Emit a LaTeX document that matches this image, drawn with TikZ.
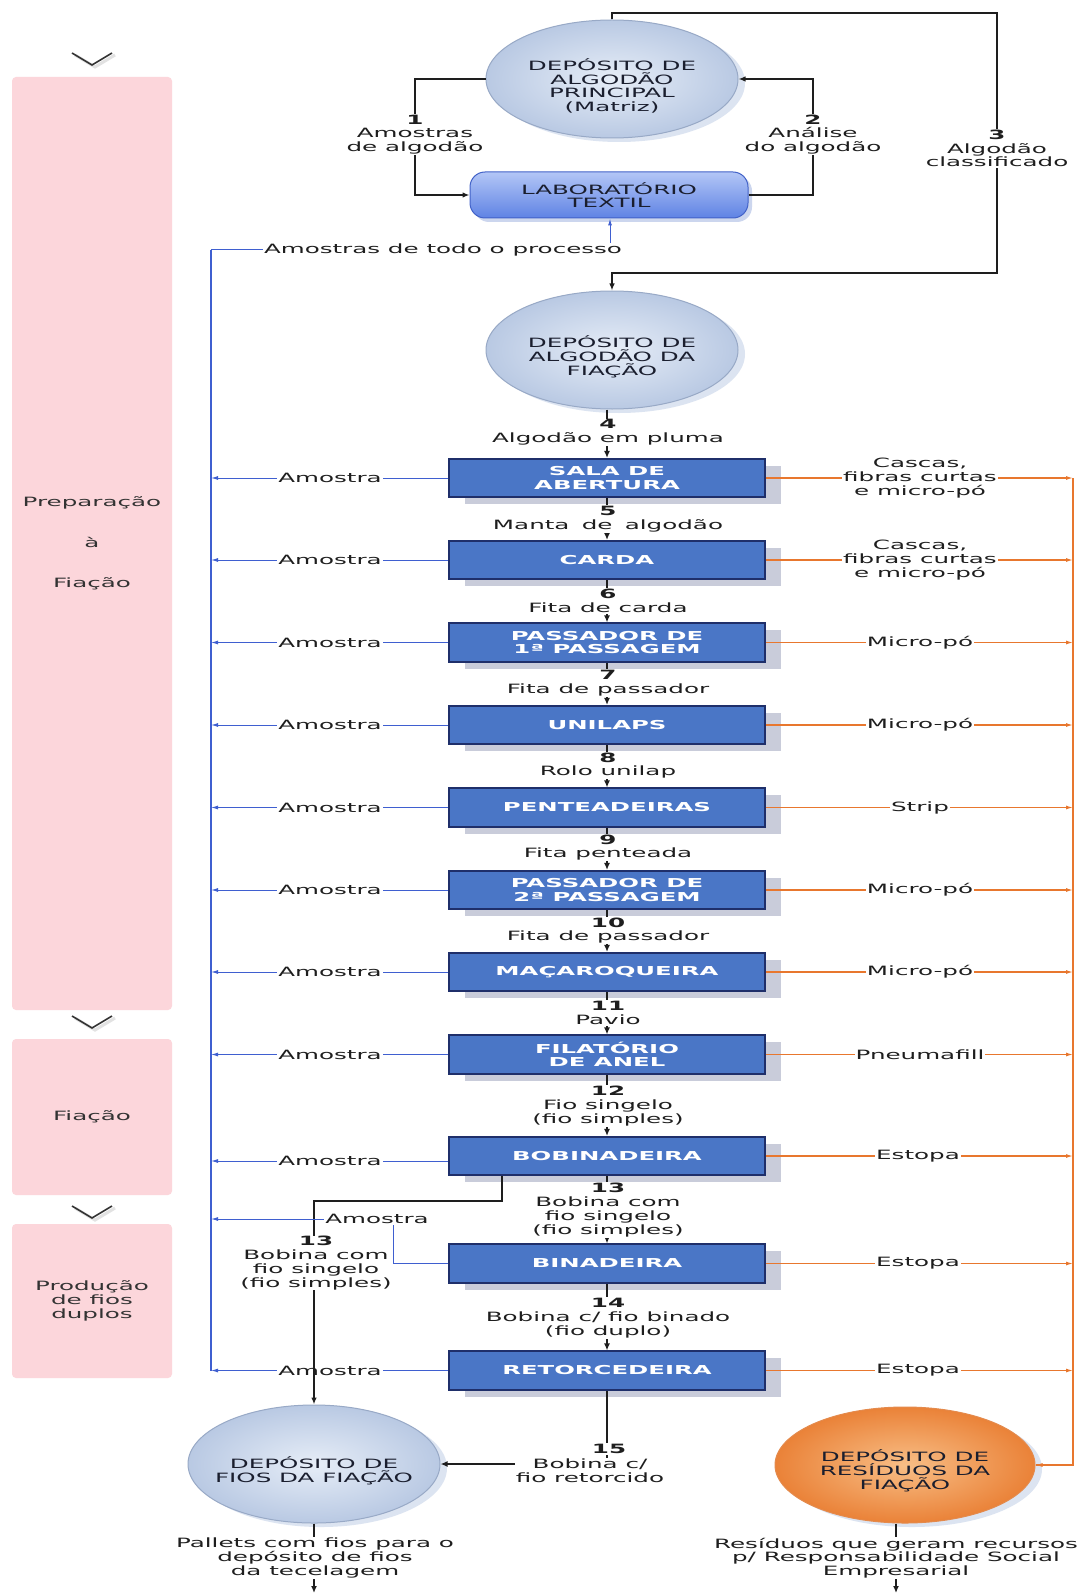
\documentclass[tikz,border=0pt]{standalone}
\usepackage{fontspec}
\setmainfont{DejaVu Sans}[FakeStretch=1.92]
\newfontfamily\boxface{DejaVu Sans}[FakeStretch=1.98]
\usetikzlibrary{arrows.meta,shapes.geometric,shadows}

\definecolor{ink}{HTML}{1E1E1E}
\definecolor{procblue}{HTML}{4A76C6}
\definecolor{procedge}{HTML}{1F2F6A}
\definecolor{procshadow}{HTML}{C9CCDA}
\definecolor{sampleblue}{HTML}{3F5FD0}
\definecolor{wasteline}{HTML}{E8772E}
\definecolor{stagepink}{HTML}{FCD6DB}
\definecolor{stageink}{HTML}{333333}
\definecolor{storein}{HTML}{E6EDF7}
\definecolor{storeout}{HTML}{B9C9E3}
\definecolor{storeedge}{HTML}{98A9C6}
\definecolor{storeshadow}{HTML}{DCE4F1}
\definecolor{storeink}{HTML}{1A1E2E}
\definecolor{wastein}{HTML}{F8BE86}
\definecolor{wasteout}{HTML}{EA8238}
\definecolor{wasteedge}{HTML}{E48A4C}
\definecolor{labtop}{HTML}{B3C6F6}
\definecolor{labbot}{HTML}{5F83E4}
\definecolor{labedge}{HTML}{4262C8}
\definecolor{labshadow}{HTML}{CCD6EE}
\definecolor{chevink}{HTML}{333333}
\definecolor{chevshade}{HTML}{E2E2E2}

\newcommand\lblsize{\fontsize{12.8pt}{13.8pt}\selectfont}
\newcommand\boxsize{\boxface\bfseries\fontsize{12.3pt}{13.3pt}\selectfont}

\begin{document}
\begin{tikzpicture}[x=1pt,y=-1pt,
  proc/.style={draw=procedge,line width=1.6pt,fill=procblue,minimum width=316pt,
    minimum height=38.5pt,inner sep=0pt,text=white,font=\boxsize,align=center,
    drop shadow={shadow xshift=16pt,shadow yshift=-7pt,fill=procshadow,opacity=1}},
  store/.style={ellipse,draw=storeedge,line width=1pt,inner color=storein,
    outer color=storeout,minimum width=252pt,minimum height=118pt,inner sep=0pt,
    drop shadow={shadow xshift=7pt,shadow yshift=-4pt,fill=storeshadow,opacity=1}},
  wastestore/.style={store,draw=wasteedge,inner color=wastein,outer color=wasteout,
    minimum width=260pt,minimum height=116pt},
  storetxt/.style={align=center,font=\lblsize,text=storeink,inner sep=0pt},
  lab/.style={rounded corners=15pt,draw=labedge,line width=1pt,top color=labtop,
    bottom color=labbot,minimum width=278pt,minimum height=46pt,inner sep=0pt,
    align=center,font=\lblsize,text=storeink,
    drop shadow={shadow xshift=4pt,shadow yshift=-4pt,fill=labshadow,opacity=1}},
  lbl/.style={fill=white,inner sep=1pt,align=center,font=\lblsize,text=ink},
  stage/.style={fill=stagepink,rounded corners=4pt,minimum width=160pt,inner sep=0pt,
    align=center,font=\lblsize,text=stageink},
  flow/.style={draw=ink,line width=1.5pt},
  flowarrow/.style={flow,-{Latex[length=7pt,width=5.5pt]}},
  chain/.style={draw=ink,line width=2pt,-{Latex[length=7pt,width=6pt]}},
  sample/.style={draw=sampleblue,line width=1pt},
  samplemain/.style={draw=sampleblue,line width=1.8pt},
  samplearrow/.style={sample,-{Latex[length=7pt,width=4pt]}},
  waste/.style={draw=wasteline,line width=1.2pt},
  wastearrow/.style={waste,-{Latex[length=7pt,width=4pt]}},
  chev/.style={draw=chevink,line width=1.6pt},
  chevback/.style={draw=chevshade,line width=3pt}
]
\fill[white] (0,0) rectangle (1079,1594);
\useasboundingbox (0,0) rectangle (1079,1594);

% ---- stage bands on the left ----
\node[stage,minimum height=933pt] (prep) at (92,543.5) {Preparação\\[26.7pt]à\\[26.7pt]Fiação};
\node[stage,minimum height=156pt] (spin) at (92,1117) {Fiação};
\node[stage,minimum height=154pt] (dbl) at (92,1301) {Produção\\de fios\\duplos};
\foreach \cy in {59,1022,1212} {
  \draw[chevback] (75,\cy-4) -- (95,\cy+8) -- (115,\cy-4);
  \draw[chev] (72,\cy-6) -- (92,\cy+6) -- (112,\cy-6);
}

% ---- storage areas and laboratory ----
\node[store] (matriz) at (612,79) {};
\node[storetxt] (matriztxt) at (612,86) {DEPÓSITO DE\\ALGODÃO\\PRINCIPAL\\(Matriz)};
\node[store] (fiacao) at (612,350) {};
\node[storetxt] (fiacaotxt) at (612,357) {DEPÓSITO DE\\ALGODÃO DA\\FIAÇÃO};
\node[store] (fios) at (314,1464) {};
\node[storetxt] (fiostxt) at (314,1471) {DEPÓSITO DE\\FIOS DA FIAÇÃO};
\node[wastestore] (resid) at (905,1465) {};
\node[storetxt] (residtxt) at (905,1471) {DEPÓSITO DE\\RESÍDUOS DA\\FIAÇÃO};
\node[lab] (lab) at (609,195) {LABORATÓRIO\\TEXTIL};

% ---- process machines ----
\node[proc] (sala)  at (607,478)    {SALA DE\\ABERTURA};
\node[proc] (carda) at (607,560)    {CARDA};
\node[proc] (pass1) at (607,642.5)  {PASSADOR DE\\1ª PASSAGEM};
\node[proc] (unil)  at (607,725)    {UNILAPS};
\node[proc] (pente) at (607,807.5)  {PENTEADEIRAS};
\node[proc] (pass2) at (607,890)    {PASSADOR DE\\2ª PASSAGEM};
\node[proc] (maca)  at (607,972)    {MAÇAROQUEIRA};
\node[proc] (fila)  at (607,1054.5) {FILATÓRIO\\DE ANEL};
\node[proc] (bobi)  at (607,1156)   {BOBINADEIRA};
\node[proc] (bina)  at (607,1263.5) {BINADEIRA};
\node[proc] (reto)  at (607,1370.5) {RETORCEDEIRA};

% ---- laboratory loop ----
\coordinate (k1) at (415,195);
\coordinate (k2) at (813,79);
\draw[flowarrow] (matriz.west) -| (k1) -- (lab.west);
\node[lbl] (l1) at (415,134.5) {\textbf{1}\\Amostras\\de algodão};
\draw[flowarrow] (lab.east) -| (k2) -- (matriz.east);
\node[lbl] (l2) at (813,134.5) {\textbf{2}\\Análise\\do algodão};
\coordinate (t3) at (997,13);
\coordinate (b3) at (997,273);
\draw[flowarrow] (matriz.north) |- (t3) -- (b3) -| (fiacao.north);
\node[lbl] (l3) at (997,148.5) {\textbf{3}\\Algodão\\classificado};

% ---- main production chain ----
\draw[chain] (sala.north |- fiacao.south) -- (sala.north);
\node[lbl] (l4) at (608,432.5) {\textbf{4}\\Algodão em pluma};
\draw[chain] (sala.south) -- (carda.north);
\node[lbl] (l5) at (608,519) {\textbf{5}\\Manta\hspace{0.35em} de\hspace{0.35em} algodão};
\draw[chain] (carda.south) -- (pass1.north);
\node[lbl] (l6) at (608,601) {\textbf{6}\\Fita de carda};
\draw[chain] (pass1.south) -- (unil.north);
\node[lbl] (l7) at (608,683) {\textbf{7}\\Fita de passador};
\draw[chain] (unil.south) -- (pente.north);
\node[lbl] (l8) at (608,765.5) {\textbf{8}\\Rolo unilap};
\draw[chain] (pente.south) -- (pass2.north);
\node[lbl] (l9) at (608,847.5) {\textbf{9}\\Fita penteada};
\draw[chain] (pass2.south) -- (maca.north);
\node[lbl] (l10) at (608,930.5) {\textbf{10}\\Fita de passador};
\draw[chain] (maca.south) -- (fila.north);
\node[lbl] (l11) at (608,1013) {\textbf{11}\\Pavio};
\draw[chain] (fila.south) -- (bobi.north);
\node[lbl] (l12) at (608,1106) {\textbf{12}\\Fio singelo\\(fio simples)};
\draw[chain] (bobi.south) -- (bina.north);
\node[lbl] (l13) at (608,1210) {\textbf{13}\\Bobina com\\fio singelo\\(fio simples)};
\draw[chain] (bina.south) -- (reto.north);
\node[lbl] (l14) at (608,1318) {\textbf{14}\\Bobina c/ fio binado\\(fio duplo)};
\draw[chain] (reto.south) |- (fios.east);
\node[lbl] (l15n) at (609,1449) {\textbf{15}};
\node[lbl] (l15) at (590,1471) {Bobina c/\\fio retorcido};

% ---- samples sent to the laboratory ----
\coordinate (vtop) at (211,250);
\coordinate (vbot) at (211,1370.5);
\coordinate (lbend) at (610,250);
\draw[samplemain] (vtop) -- (vbot);
\draw[samplearrow] (vtop) -- (lbend) -- (lbend |- lab.south);
\node[lbl] (lall) at (443,250) {Amostras de todo o processo};
\foreach \m in {sala,carda,pass1,unil,pente,pass2,maca,fila,reto} {
  \draw[samplearrow] (\m.west) -- (\m.west -| vtop);
  \node[lbl] (a\m) at (\m.west -| 330,0) {Amostra};
}
\draw[samplearrow] (bobi.west |- 0,1161) -- (vtop |- 0,1161);
\node[lbl] (abobi) at (330,1161) {Amostra};

% ---- single yarn bobbins sent straight to storage ----
\coordinate (bx) at (502,1201);
\draw[flowarrow] (bobi.south -| bx) -- (bx) -| (fios.north);
\node[lbl,inner sep=0.5pt] (l13b) at (316,1263) {\textbf{13}\\Bobina com\\fio singelo\\(fio simples)};

% ---- sample from the doubling machine, routed beside the label above ----
\coordinate (bn1) at (393,1263.5);
\coordinate (bn2) at (393,1219);
\draw[samplearrow] (bina.west) -- (bn1) -- (bn2) -- (vtop |- bn2);
\node[lbl] (abina) at (377,1219) {Amostra};

% ---- waste collection ----
\coordinate (otop) at (1073,478);
\draw[waste] (otop) |- (resid.east);
\draw[wastearrow] (otop |- resid.east) -- (resid.east);
\foreach \m in {sala,carda,pass1,unil,pente,pass2,maca,fila,bobi,bina,reto}
  \draw[wastearrow] (\m.east) -- (\m.east -| otop);
\node[lbl] (wsala)  at (920,478)    {Cascas,\\fibras curtas\\e micro-pó};
\node[lbl] (wcarda) at (920,560)    {Cascas,\\fibras curtas\\e micro-pó};
\node[lbl] (wpass1) at (920,642.5)  {Micro-pó};
\node[lbl] (wunil)  at (920,725)    {Micro-pó};
\node[lbl] (wpente) at (920,807.5)  {Strip};
\node[lbl] (wpass2) at (920,890)    {Micro-pó};
\node[lbl] (wmaca)  at (920,972)    {Micro-pó};
\node[lbl] (wfila)  at (920,1054.5) {Pneumafill};
\node[lbl] (wbobi)  at (918,1156)   {Estopa};
\node[lbl] (wbina)  at (918,1263.5) {Estopa};
\node[lbl] (wreto)  at (918,1370.5) {Estopa};

% ---- outputs ----
\coordinate (fend) at (314,1593);
\coordinate (rend) at (896,1593);
\draw[chain] (fios.south) -- (fend);
\node[lbl] (lout1) at (315,1558) {Pallets com fios para o\\depósito de fios\\da tecelagem};
\draw[chain] (resid.south -| rend) -- (rend);
\node[lbl] (lout2) at (896,1558) {Resíduos que geram recursos\\p/ Responsabilidade Social\\Empresarial};
\end{tikzpicture}
\end{document}
